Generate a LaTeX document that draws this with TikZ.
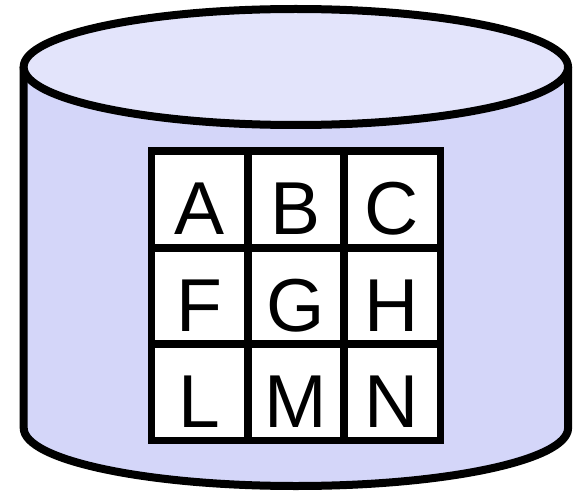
\documentclass[tikz,border=0pt]{standalone}
\usepackage{fontspec}
\setmainfont{Liberation Sans}
\definecolor{sidecol}{RGB}{212,214,249}
\definecolor{topcol}{RGB}{227,228,251}
\begin{document}
\begin{tikzpicture}[x=1pt,y=1pt,
  outline/.style={line width=8pt,draw=black},
  cell/.style={draw=black,line width=7.5pt,fill=white,rectangle,minimum size=96.5pt,
    inner sep=0pt,text height=70pt,text depth=0pt,
    font=\fontsize{75}{80}\selectfont}]
\useasboundingbox (0,0) rectangle (581,-492);
% cylinder body
\fill[sidecol] (23.7,-67) -- (23.7,-428) arc[start angle=180,end angle=360,x radius=272.2,y radius=58] -- (568,-67) -- cycle;
\draw[outline,line join=round] (23.7,-67) -- (23.7,-428) arc[start angle=180,end angle=360,x radius=272.2,y radius=58] -- (568,-67);
% top
\draw[outline,fill=topcol] (295.85,-67) ellipse[x radius=272.2,y radius=58];
% grid
\node[cell] (a) at (199.5,-199.5) {A};
\node[cell] (b) at (296,-199.5) {B};
\node[cell] (c) at (392,-199.5) {C};
\node[cell] (f) at (199.5,-296) {F};
\node[cell] (g) at (296,-296) {G};
\node[cell] (h) at (392,-296) {H};
\node[cell] (l) at (199.5,-392) {L};
\node[cell] (m) at (296,-392) {M};
\node[cell] (n) at (392,-392) {N};
\end{tikzpicture}
\end{document}
